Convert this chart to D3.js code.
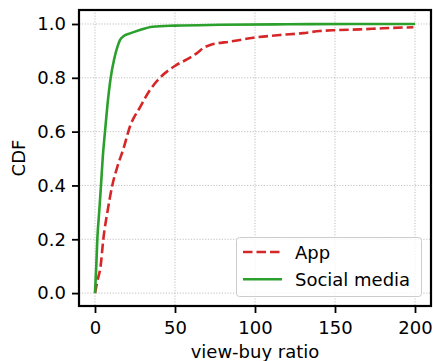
<!DOCTYPE html>
<html>
<head>
<meta charset="utf-8">
<style>
  body { margin: 0; background: #fff; }
  svg text { font-family: "DejaVu Sans", sans-serif; fill: #000; }
  .grid line { stroke: #b0b0b0; stroke-width: 0.8; stroke-dasharray: 1.2, 1.6; }
</style>
</head>
<body>
<div id="chart"></div>
<script src="https://cdnjs.cloudflare.com/ajax/libs/d3/7.8.5/d3.min.js"></script>
<script>
// view-buy ratio CDF
var appX = [0, 1.5, 3.5, 5.2, 8, 10.8, 14, 17.7, 21.9, 28.1, 34.4, 40.6, 51, 58, 63.5, 68, 72, 85, 99, 115.6, 130, 140.6, 150, 165.6, 180, 199];
var appY = [0, 0.045, 0.1, 0.2, 0.31, 0.4, 0.47, 0.535, 0.62, 0.69, 0.755, 0.8, 0.848, 0.87, 0.891, 0.912, 0.922, 0.935, 0.949, 0.959, 0.966, 0.974, 0.977, 0.98, 0.984, 0.988];

var socialX = [0, 0.8, 1.45, 2.6, 3.75, 4.8, 6.25, 7.8, 9.8, 12, 14, 15.6, 18, 21.9, 28, 36, 50, 78, 120, 160, 200];
var socialY = [0, 0.1, 0.2, 0.3, 0.4, 0.5, 0.6, 0.7, 0.8, 0.87, 0.915, 0.94, 0.955, 0.965, 0.978, 0.99, 0.994, 0.997, 0.999, 1.0, 1.0];

var xTicks = [0, 50, 100, 150, 200];
var yTicks = [0, 0.2, 0.4, 0.6, 0.8, 1.0];

var cfg = { w: 433, h: 361, left: 79, right: 431, top: 10, bottom: 306 };

var svg = d3.select('#chart').append('svg')
  .attr('width', cfg.w)
  .attr('height', cfg.h);

var xSc = d3.scaleLinear().domain([-10, 210]).range([cfg.left, cfg.right]);
var ySc = d3.scaleLinear().domain([-0.048, 1.052]).range([cfg.bottom, cfg.top]);

// grid
svg.append('g').attr('class', 'grid')
  .selectAll('line.gx').data(xTicks).enter().append('line')
  .attr('x1', function(d) { return xSc(d) }).attr('x2', function(d) { return xSc(d) })
  .attr('y1', cfg.top).attr('y2', cfg.bottom);
svg.append('g').attr('class', 'grid')
  .selectAll('line.gy').data(yTicks).enter().append('line')
  .attr('y1', function(d) { return ySc(d) }).attr('y2', function(d) { return ySc(d) })
  .attr('x1', cfg.left).attr('x2', cfg.right);

var line = d3.line()
  .curve(d3.curveMonotoneX)
  .x(function(d) { return xSc(d[0]) })
  .y(function(d) { return ySc(d[1]) });

svg.append('path')
  .datum(d3.zip(appX, appY))
  .attr('d', line)
  .attr('fill', 'none')
  .attr('stroke', '#d62728')
  .attr('stroke-width', 2.6)
  .attr('stroke-dasharray', '9.5,4');

svg.append('path')
  .datum(d3.zip(socialX, socialY))
  .attr('d', line)
  .attr('fill', 'none')
  .attr('stroke', '#2ca02c')
  .attr('stroke-width', 2.6);

// axes
var xAxis = d3.axisBottom(xSc).tickValues(xTicks).tickSize(7).tickPadding(8);
var yAxis = d3.axisLeft(ySc).tickValues(yTicks).tickSize(7).tickPadding(6)
  .tickFormat(d3.format('.1f'));

var gx = svg.append('g')
  .attr('transform', 'translate(0,' + cfg.bottom + ')')
  .call(xAxis);
var gy = svg.append('g')
  .attr('transform', 'translate(' + cfg.left + ',0)')
  .call(yAxis);

[gx, gy].forEach(function(g) {
  g.select('.domain').remove();
  g.selectAll('.tick line').attr('stroke', '#000').attr('stroke-width', 1.8);
  g.selectAll('.tick text').style('font-size', '18px').attr('fill', '#000');
});

// frame
svg.append('rect')
  .attr('x', cfg.left).attr('y', cfg.top)
  .attr('width', cfg.right - cfg.left).attr('height', cfg.bottom - cfg.top)
  .attr('fill', 'none').attr('stroke', '#000').attr('stroke-width', 2.2);

// axis labels
svg.append('text')
  .attr('x', (cfg.left + cfg.right) / 2).attr('y', 358)
  .attr('text-anchor', 'middle')
  .style('font-size', '18px')
  .text('view-buy ratio');

svg.append('text')
  .attr('transform', 'translate(25,158) rotate(-90)')
  .attr('text-anchor', 'middle')
  .style('font-size', '18px')
  .text('CDF');

// legend
var legendNames = ['App', 'Social media'];
var legendColors = ['#d62728', '#2ca02c'];
var legendDash = ['9.5,4', null];

var lg = svg.append('g');
lg.append('rect')
  .attr('x', 236.5).attr('y', 237.5).attr('width', 185).attr('height', 59)
  .attr('rx', 3)
  .attr('fill', '#fff').attr('fill-opacity', 0.8)
  .attr('stroke', '#cccccc').attr('stroke-width', 1);

var items = lg.selectAll('g.item').data(legendNames).enter().append('g')
  .attr('transform', function(d, i) { return 'translate(0,' + (252 + i * 27.3) + ')' });
items.append('line')
  .attr('x1', 243).attr('x2', 282).attr('y1', 0).attr('y2', 0)
  .attr('stroke', function(d, i) { return legendColors[i] })
  .attr('stroke-width', 2.6)
  .attr('stroke-dasharray', function(d, i) { return legendDash[i] });
items.append('text')
  .attr('x', 295).attr('y', 6.5)
  .style('font-size', '18px')
  .text(function(d) { return d });
</script>
</body>
</html>
